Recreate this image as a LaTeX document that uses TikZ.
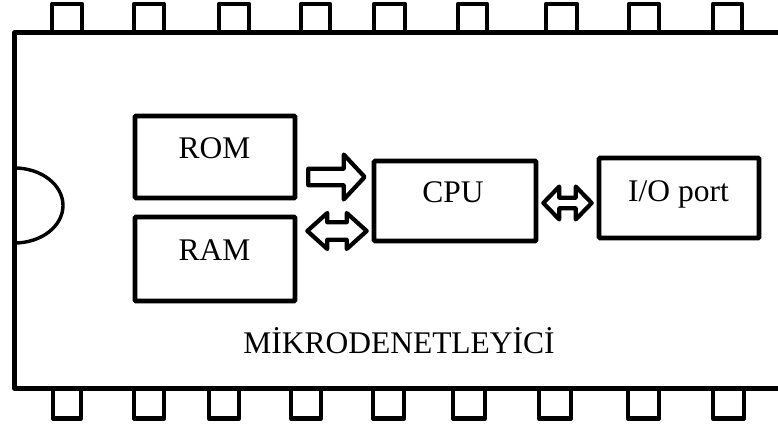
\documentclass[tikz,border=0pt]{standalone}
\usepackage{fontspec}
\setmainfont{Liberation Serif}
\usetikzlibrary{calc}
\newcommand\blkarrow[5]{%
  \draw[arrowline] let \p1=(#1), \p2=(#2) in
    (\x1,\y1+#3) -- (\x2-#5,\y1+#3) -- (\x2-#5,\y1+#4) -- (\x2,\y1)
    -- (\x2-#5,\y1-#4) -- (\x2-#5,\y1-#3) -- (\x1,\y1-#3) -- cycle;}
\newcommand\dblarrow[5]{%
  \draw[arrowline] let \p1=(#1), \p2=(#2) in
    (\x1,\y1) -- (\x1+#5,\y1+#4) -- (\x1+#5,\y1+#3) -- (\x2-#5,\y1+#3)
    -- (\x2-#5,\y1+#4) -- (\x2,\y1) -- (\x2-#5,\y1-#4) -- (\x2-#5,\y1-#3)
    -- (\x1+#5,\y1-#3) -- (\x1+#5,\y1-#4) -- cycle;}
\begin{document}
\begin{tikzpicture}[x=1pt,y=-1pt,
  body/.style={line width=4.6pt,line join=round,line cap=round},
  pinline/.style={line width=4.6pt,line join=round},
  notch/.style={line width=3.4pt},
  unit/.style={draw,line width=4.6pt,rounded corners=1pt,minimum width=#1,inner sep=0pt},
  arrowline/.style={draw,line width=4.2pt,line join=round,fill=white},
  lbl/.style={font=\fontsize{31.5pt}{36pt}\selectfont,inner sep=0pt,anchor=base}]
\useasboundingbox (0,0) rectangle (778,427);
\fill[white] (0,0) rectangle (778,427);
% chip body
\draw[body] (778,32.5) -- (14.5,32.5) -- (14.5,388.5) -- (778,388.5);
% notch
\draw[notch] (14.5,168) arc[start angle=90,end angle=-90,x radius=48.5pt,y radius=37.5pt];
% top pins
\foreach \a/\b in {52/82,134/164,219/249,301/330,374/405,458/487,546/577,629/659,713/742}
  \draw[pinline] (\a,32.5) -- (\a,4) -- (\b,4) -- (\b,32.5);
% bottom pins
\foreach \a/\b in {53/81,134/164,209/239,291/321,373/404,453/485,539/571,628/659,713/744}
  \draw[pinline] (\a,388.5) -- (\a,418.5) -- (\b,418.5) -- (\b,388.5);
% units
\node[unit=160pt,minimum height=82pt] (ROM) at (215,157) {};
\node[unit=160pt,minimum height=84pt] (RAM) at (215,259) {};
\node[unit=162pt,minimum height=80pt] (CPU) at (455,201) {};
\node[unit=160pt,minimum height=80pt] (IO) at (679,198) {};
\node[lbl] (tROM) at (214.5,159) {ROM};
\node[lbl] (tRAM) at (214.5,261) {RAM};
\node[lbl] (tCPU) at (453,203) {CPU};
\node[lbl] (tIO) at (678.5,202) {I/O port};
\node[lbl] (title) at (399,353) {MİKRODENETLEYİCİ};
% connectors
\coordinate (rc1) at ($(ROM.east)+(11,20)$);
\coordinate (rc2) at ($(CPU.west)+(-7,-24)$);
\coordinate (mc1) at ($(RAM.east)+(10,-28)$);
\coordinate (mc2) at ($(CPU.west)+(-5,30)$);
\coordinate (ci1) at ($(CPU.east)+(5,2)$);
\coordinate (ci2) at ($(IO.west)+(-5,5)$);
\blkarrow{rc1}{rc2}{8.3pt}{22.5pt}{21pt}
\dblarrow{mc1}{mc2}{8.7pt}{18pt}{20pt}
\dblarrow{ci1}{ci2}{5.3pt}{16.5pt}{16pt}
\end{tikzpicture}
\end{document}
